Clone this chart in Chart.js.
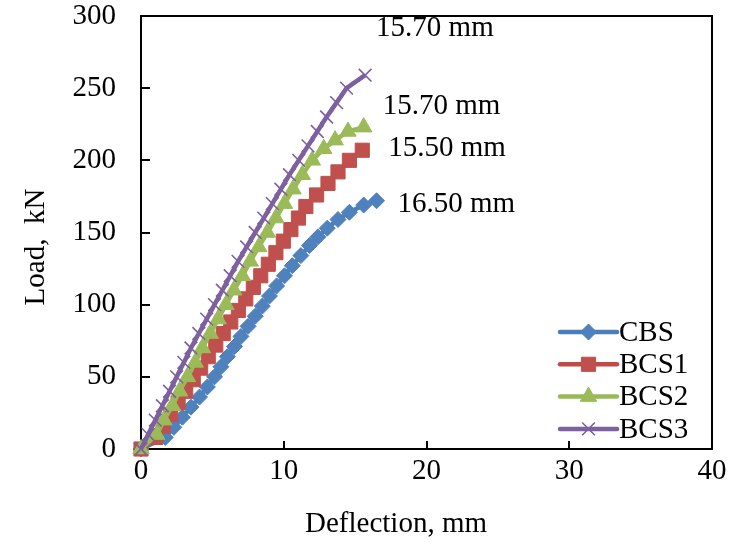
<!DOCTYPE html>
<html><head><meta charset="utf-8">
<script src="https://cdn.jsdelivr.net/npm/chart.js@4.4.0/dist/chart.umd.min.js"></script>
<style>html,body{margin:0;padding:0;background:#fff;}canvas{display:block;}</style>
</head><body>
<canvas id="c" width="745" height="552"></canvas>
<script>
const seriesNames = ["CBS", "BCS1", "BCS2", "BCS3"];
const cbsX = [0, 1.7, 2.3, 2.9, 3.5, 4.1, 4.65, 5.15, 5.6, 6.05, 6.55, 7.0, 7.5, 8.0, 8.5, 9.0, 9.5, 10.05, 10.6, 11.2, 11.8, 12.4, 13.05, 13.8, 14.6, 15.6, 16.5];
const cbsY = [0, 8, 15, 22, 29, 36, 43, 50, 57, 64, 71, 78, 85, 92, 99, 106, 113, 120, 127, 134, 141, 147, 153, 159, 164, 169, 172];
const bcs1X = [0, 1.03, 1.55, 2.08, 2.6, 3.13, 3.66, 4.18, 4.71, 5.24, 5.76, 6.29, 6.82, 7.34, 7.87, 8.39, 8.92, 9.45, 9.97, 10.5, 11.03, 11.55, 12.3, 13.1, 13.8, 14.6, 15.5];
const bcs1Y = [0, 8, 16, 24, 32, 40, 48, 56, 64, 72, 80, 88, 96, 104, 112, 120, 128, 136, 144, 152, 160, 168, 176, 184, 192, 200, 207];
const bcs2X = [0, 1.1, 1.6, 2.2, 2.7, 3.25, 3.8, 4.3, 4.85, 5.4, 5.95, 6.5, 7.1, 7.65, 8.25, 8.85, 9.45, 10.05, 10.65, 11.3, 12.0, 12.8, 13.6, 14.5, 15.6];
const bcs2Y = [0, 10, 20, 30, 40, 50, 60, 70, 80, 90, 100, 110, 120, 130, 140, 150, 160, 170, 180, 190, 200, 208, 214, 220, 223];
const bcs3X = [0, 0.5, 1.0, 1.5, 2.0, 2.5, 3.0, 3.5, 4.05, 4.6, 5.15, 5.7, 6.25, 6.8, 7.4, 8.0, 8.6, 9.2, 9.8, 10.4, 11.05, 11.7, 12.35, 13.0, 13.7, 14.4, 15.7];
const bcs3Y = [0, 10, 20, 30, 40, 50, 60, 70, 80, 90, 100, 110, 120, 130, 140, 150, 160, 170, 180, 190, 200, 210, 220, 230, 240, 250, 259];
const endLabels = ["16.50 mm", "15.50 mm", "15.70 mm", "15.70 mm"];
const xTicks = [0, 10, 20, 30, 40];
const yTicks = [0, 50, 100, 150, 200, 250, 300];
const xTitle = "Deflection, mm";
const yTitle = "Load,  kN";

const FONT = {family: "'Liberation Serif', 'Times New Roman', serif", size: 29};
const FONTSTR = FONT.size + "px " + FONT.family;
const toPts = (xs, ys) => xs.map((x, i) => ({x: x, y: ys[i]}));

const styles = [
  {line: '#4A7EBB', fill: '#4F81BD', ps: 'rectRot', r: 8, bw: 1, order: 4, lab: [21, 4]},
  {line: '#BE4B48', fill: '#C0504D', ps: 'rect', r: 10, bw: 1, order: 3, lab: [26, -2]},
  {line: '#98B954', fill: '#9BBB59', ps: 'triangle', r: 9.5, bw: 1, order: 2, lab: [19, -21]},
  {line: '#7D60A0', fill: '#8064A2', ps: 'crossRot', r: 9, bw: 1.6, order: 1, lab: [11, -47]}
];
const allData = [toPts(cbsX, cbsY), toPts(bcs1X, bcs1Y), toPts(bcs2X, bcs2Y), toPts(bcs3X, bcs3Y)];

const datasets = seriesNames.map((n, i) => ({
  label: n,
  data: allData[i],
  borderColor: styles[i].line,
  backgroundColor: styles[i].fill,
  borderWidth: 4.5,
  pointStyle: styles[i].ps,
  pointRadius: styles[i].r,
  pointBorderWidth: styles[i].bw,
  pointBorderColor: styles[i].ps === 'crossRot' ? styles[i].line : styles[i].fill,
  pointBackgroundColor: styles[i].fill,
  tension: 0,
  clip: false,
  order: styles[i].order
}));

function drawMarker(ctx, st, x, y) {
  if (Chart.helpers && Chart.helpers.drawPoint) {
    ctx.save();
    ctx.fillStyle = st.fill;
    ctx.strokeStyle = st.ps === 'crossRot' ? st.line : st.fill;
    ctx.lineWidth = st.bw;
    Chart.helpers.drawPoint(ctx, {pointStyle: st.ps, radius: st.r, borderWidth: st.bw, rotation: 0}, x, y);
    ctx.restore();
  }
}

const framePlugin = {
  id: 'frame',
  beforeDatasetsDraw(chart) {
    const {ctx, chartArea: a, scales} = chart;
    ctx.save();
    ctx.strokeStyle = '#000';
    ctx.lineWidth = 2;
    ctx.strokeRect(a.left, a.top, a.right - a.left, a.bottom - a.top);
    ctx.beginPath();
    xTicks.forEach(v => {
      const px = Math.round(scales.x.getPixelForValue(v));
      ctx.moveTo(px, a.bottom); ctx.lineTo(px, a.bottom - 8);
    });
    yTicks.forEach(v => {
      const py = Math.round(scales.y.getPixelForValue(v));
      ctx.moveTo(a.left, py); ctx.lineTo(a.left + 9, py);
    });
    ctx.stroke();
    ctx.fillStyle = '#000';
    ctx.font = FONTSTR;
    ctx.textAlign = 'center';
    ctx.textBaseline = 'middle';
    ctx.fillText(xTitle, 396, 524);
    ctx.save();
    ctx.translate(36, 247);
    ctx.rotate(-Math.PI / 2);
    ctx.fillText(yTitle, 0, 0);
    ctx.restore();
    ctx.restore();
  },
  afterDatasetsDraw(chart) {
    const ctx = chart.ctx;
    ctx.save();
    ctx.font = FONTSTR;
    ctx.fillStyle = '#000';
    ctx.textBaseline = 'middle';
    ctx.textAlign = 'left';
    chart.data.datasets.forEach((ds, i) => {
      const meta = chart.getDatasetMeta(i);
      const last = meta.data[meta.data.length - 1];
      ctx.fillText(endLabels[i], last.x + styles[i].lab[0], last.y + styles[i].lab[1]);
    });
    const lx0 = 560, lx1 = 617, ly0 = 332, dy = 32.3;
    seriesNames.forEach((n, i) => {
      const y = ly0 + i * dy;
      ctx.save();
      ctx.strokeStyle = styles[i].line;
      ctx.lineWidth = 4.5;
      ctx.lineCap = 'round';
      ctx.beginPath(); ctx.moveTo(lx0, y); ctx.lineTo(lx1, y); ctx.stroke();
      ctx.restore();
      drawMarker(ctx, styles[i], (lx0 + lx1) / 2, y);
      ctx.fillStyle = '#000';
      ctx.font = FONTSTR;
      ctx.textBaseline = 'middle';
      ctx.textAlign = 'left';
      ctx.fillText(n, lx1 + 2, y + 1);
    });
    ctx.restore();
  }
};

new Chart(document.getElementById('c'), {
  type: 'line',
  data: {datasets: datasets},
  plugins: [framePlugin],
  options: {
    responsive: false,
    animation: false,
    devicePixelRatio: 1,
    layout: {padding: {left: 0, right: 33, top: 16, bottom: 0}},
    plugins: {legend: {display: false}, tooltip: {enabled: false}},
    scales: {
      x: {
        type: 'linear', min: 0, max: 40,
        afterBuildTicks: s => { s.ticks = xTicks.map(v => ({value: v})); },
        grid: {display: false, drawTicks: false},
        border: {display: false},
        ticks: {font: FONT, color: '#000', padding: 5, maxRotation: 0, autoSkip: false},
        title: {display: false},
        afterFit: s => { s.height = 103; s.paddingLeft = 0; s.paddingRight = 0; }
      },
      y: {
        type: 'linear', min: 0, max: 300,
        afterBuildTicks: s => { s.ticks = yTicks.map(v => ({value: v})); },
        grid: {display: false, drawTicks: false},
        border: {display: false},
        ticks: {font: FONT, color: '#000', padding: 25, autoSkip: false},
        title: {display: false},
        afterFit: s => { s.width = 141; s.paddingTop = 0; s.paddingBottom = 0; }
      }
    }
  }
});
</script>
</body></html>
